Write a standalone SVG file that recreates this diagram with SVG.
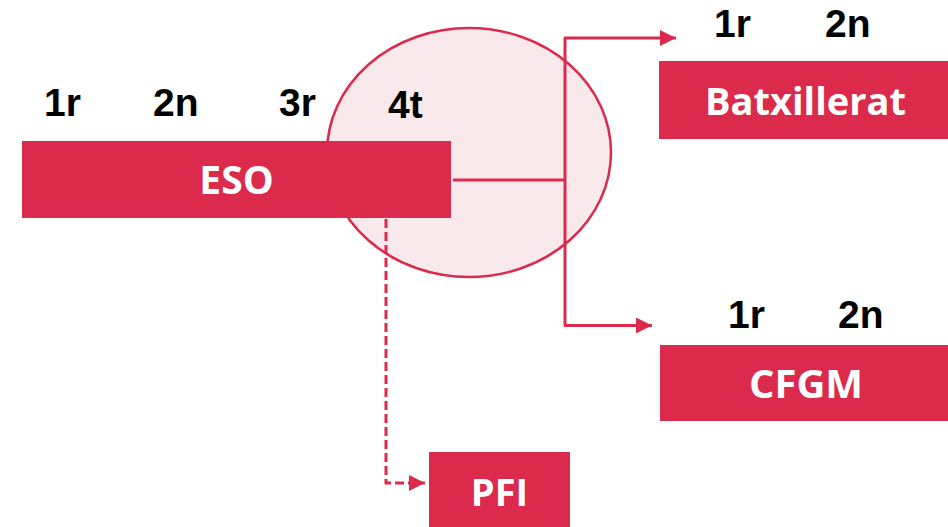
<svg xmlns="http://www.w3.org/2000/svg" width="948" height="527" viewBox="0 0 948 527">
<defs>
<style>
.box{fill:#DB2A4B}
.bt{font-family:"Open Sans","Liberation Sans",sans-serif;font-weight:700;fill:#fff;text-anchor:middle}
.lb{font-family:"Liberation Sans",Arial,sans-serif;font-weight:700;fill:#000;font-size:39px}
.ln{stroke:#DB2A4B;stroke-width:3;fill:none}
</style>
<marker id="ah" viewBox="0 0 10 10" refX="10" refY="5" markerWidth="16" markerHeight="16" markerUnits="userSpaceOnUse" orient="auto">
<path d="M0,0 L10,5 L0,10 z" fill="#DB2A4B"/>
</marker>
</defs>
<rect width="948" height="527" fill="#fff"/>
<g id="highlight">
<ellipse cx="469" cy="152.5" rx="142" ry="124.5" fill="#F9E9EC" stroke="#DB2A4B" stroke-width="2.5"/>
</g>
<g id="connectors">
<path class="ln" d="M453,180 H565"/>
<path class="ln" d="M565,38 V325.5"/>
<path class="ln" d="M564,38 H676" marker-end="url(#ah)"/>
<path class="ln" d="M564,325.5 H652" marker-end="url(#ah)"/>
<path class="ln" d="M386,219 V483 H425" stroke-dasharray="9,4" marker-end="url(#ah)"/>
</g>
<g id="eso">
<rect class="box" x="22" y="141" width="429" height="77"/>
<text class="bt" x="236.5" y="194" font-size="39">ESO</text>
</g>
<g id="eso-labels">
<text class="lb" x="44" y="116">1r</text>
<text class="lb" x="153" y="116">2n</text>
<text class="lb" x="279" y="116">3r</text>
<text class="lb" x="388" y="118" fill="#1a0a0a">4t</text>
</g>
<g id="batxillerat">
<rect class="box" x="659" y="61" width="289" height="78"/>
<text class="bt" x="805.5" y="115" font-size="38">Batxillerat</text>
<text class="lb" x="714" y="37">1r</text>
<text class="lb" x="825" y="37">2n</text>
</g>
<g id="cfgm">
<rect class="box" x="660" y="345" width="288" height="76"/>
<text class="bt" x="806" y="398" font-size="40">CFGM</text>
<text class="lb" x="728" y="328">1r</text>
<text class="lb" x="838" y="328">2n</text>
</g>
<g id="pfi">
<rect class="box" x="429" y="452" width="141" height="75"/>
<text class="bt" x="499.5" y="506" font-size="38">PFI</text>
</g>
</svg>
